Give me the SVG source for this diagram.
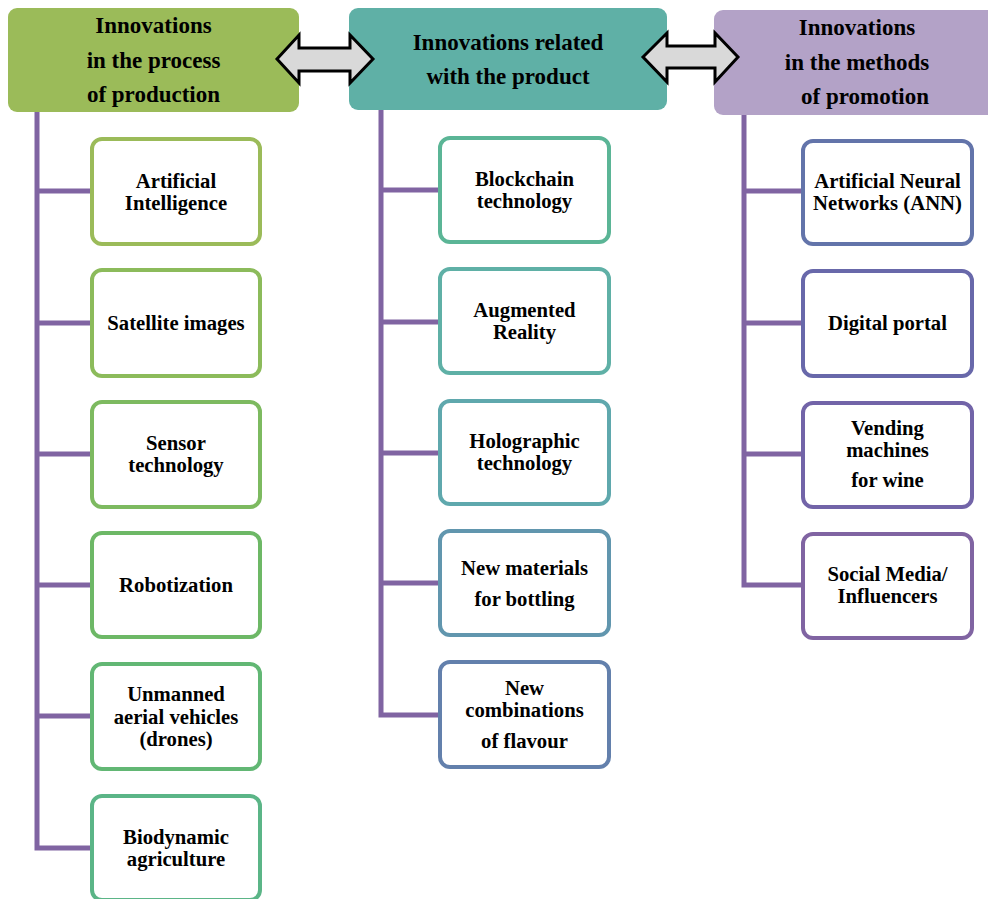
<svg xmlns="http://www.w3.org/2000/svg" width="988" height="899" viewBox="0 0 988 899">
<style>
.hd{font-family:"Liberation Serif","Times New Roman",serif;font-weight:bold;font-size:23px;fill:#000;text-anchor:middle}
.tx{font-family:"Liberation Serif","Times New Roman",serif;font-weight:bold;font-size:20.7px;fill:#000;text-anchor:middle}
.bx{fill:#fff;stroke-width:4}
.ln{fill:none;stroke:#8064A2;stroke-width:5}
.ar{fill:#D9D9D9;stroke:#000;stroke-width:3;stroke-linejoin:miter}
</style>
<rect width="988" height="899" fill="#fff"/>
<g id="h1">
<rect x="8" y="8" width="291" height="104" rx="9" fill="#9BBB59"/>
<text class="hd" x="153.5" y="33">Innovations</text>
<text class="hd" x="153.5" y="68">in the process</text>
<text class="hd" x="153.5" y="102">of production</text>
</g>
<g id="h2">
<rect x="349" y="8" width="318" height="102" rx="9" fill="#5FB0A6"/>
<text class="hd" x="508" y="50">Innovations related</text>
<text class="hd" x="508" y="84">with the product</text>
</g>
<g id="h3">
<rect x="714" y="10" width="290" height="105" rx="9" fill="#B3A2C7"/>
<text class="hd" x="857" y="35">Innovations</text>
<text class="hd" x="857" y="70">in the methods</text>
<text class="hd" x="865" y="104">of promotion</text>
</g>
<g id="c1n1"><rect class="bx" x="92" y="139" width="168" height="105" rx="10" stroke="#9BBB59"/>
<text class="tx" x="176" y="188">Artificial</text><text class="tx" x="176" y="210">Intelligence</text></g>
<g id="c1n2"><rect class="bx" x="92" y="270" width="168" height="106" rx="10" stroke="#8CBB5B"/>
<text class="tx" x="176" y="330">Satellite images</text></g>
<g id="c1n3"><rect class="bx" x="92" y="402" width="168" height="105" rx="10" stroke="#7DBA60"/>
<text class="tx" x="176" y="450">Sensor</text><text class="tx" x="176" y="472">technology</text></g>
<g id="c1n4"><rect class="bx" x="92" y="533" width="168" height="104" rx="10" stroke="#6DB866"/>
<text class="tx" x="176" y="592">Robotization</text></g>
<g id="c1n5"><rect class="bx" x="92" y="664" width="168" height="105" rx="10" stroke="#62B774"/>
<text class="tx" x="176" y="701">Unmanned</text><text class="tx" x="176" y="724">aerial vehicles</text><text class="tx" x="176" y="746">(drones)</text></g>
<g id="c1n6"><rect class="bx" x="92" y="796" width="168" height="104" rx="10" stroke="#5BB587"/>
<text class="tx" x="176" y="844">Biodynamic</text><text class="tx" x="176" y="866">agriculture</text></g>
<g id="c2n1"><rect class="bx" x="440" y="138" width="169" height="104" rx="10" stroke="#5BB596"/>
<text class="tx" x="524.5" y="186">Blockchain</text><text class="tx" x="524.5" y="208">technology</text></g>
<g id="c2n2"><rect class="bx" x="440" y="269" width="169" height="104" rx="10" stroke="#5FB0A6"/>
<text class="tx" x="524.5" y="317">Augmented</text><text class="tx" x="524.5" y="339">Reality</text></g>
<g id="c2n3"><rect class="bx" x="440" y="401" width="169" height="103" rx="10" stroke="#5FA8AD"/>
<text class="tx" x="524.5" y="448">Holographic</text><text class="tx" x="524.5" y="470">technology</text></g>
<g id="c2n4"><rect class="bx" x="440" y="531" width="169" height="104" rx="10" stroke="#6196AE"/>
<text class="tx" x="524.5" y="575">New materials</text><text class="tx" x="524.5" y="606">for bottling</text></g>
<g id="c2n5"><rect class="bx" x="440" y="662" width="169" height="105" rx="10" stroke="#6380AC"/>
<text class="tx" x="524.5" y="695">New</text><text class="tx" x="524.5" y="717">combinations</text><text class="tx" x="524.5" y="748">of flavour</text></g>
<g id="c3n1"><rect class="bx" x="803" y="141" width="169" height="103" rx="10" stroke="#6374AA"/>
<text class="tx" x="887.5" y="188">Artificial Neural</text><text class="tx" x="887.5" y="210">Networks (ANN)</text></g>
<g id="c3n2"><rect class="bx" x="803" y="271" width="169" height="105" rx="10" stroke="#6868AA"/>
<text class="tx" x="887.5" y="330">Digital portal</text></g>
<g id="c3n3"><rect class="bx" x="803" y="403" width="169" height="104" rx="10" stroke="#7264A8"/>
<text class="tx" x="887.5" y="435">Vending</text><text class="tx" x="887.5" y="457">machines</text><text class="tx" x="887.5" y="487">for wine</text></g>
<g id="c3n4"><rect class="bx" x="803" y="534" width="169" height="104" rx="10" stroke="#8064A2"/>
<text class="tx" x="887.5" y="581">Social Media/</text><text class="tx" x="887.5" y="603">Influencers</text></g>
<g id="connectors">
<path class="ln" d="M37,112 V848 H90 M37,191 H90 M37,323 H90 M37,454 H90 M37,585 H90 M37,716 H90"/>
<path class="ln" d="M381,110 V715 H438 M381,190 H438 M381,322 H438 M381,453 H438 M381,583 H438"/>
<path class="ln" d="M744,115 V585 H801 M744,191 H801 M744,323 H801 M744,454 H801"/>
<polygon class="ar" points="277,59 299,35 299,48 350,48 350,35 373,59 350,83 350,71 299,71 299,83"/>
<polygon class="ar" points="643,57 667,33 667,46 715,46 715,33 738,57 715,82 715,68 667,68 667,82"/>
</g>
</svg>
